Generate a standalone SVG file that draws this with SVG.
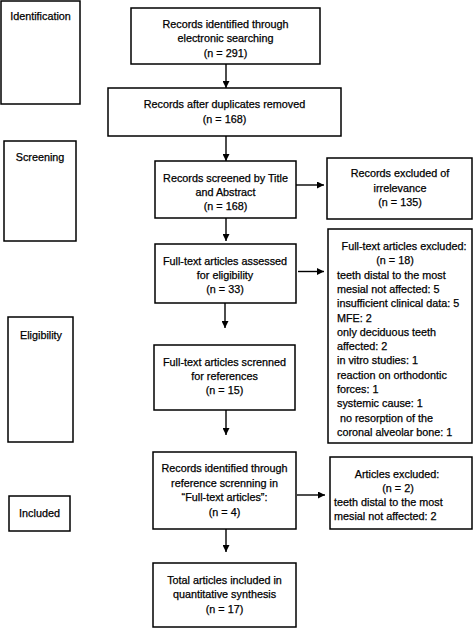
<svg xmlns="http://www.w3.org/2000/svg" width="473" height="629" viewBox="0 0 473 629">
<defs>
<marker id="ah" viewBox="0 0 10 10" refX="10" refY="5" markerWidth="7" markerHeight="7" markerUnits="userSpaceOnUse" orient="auto">
<path d="M0,0 L10,5 L0,10 z" fill="#000"/>
</marker>
</defs>
<style>
rect{fill:#fff;stroke:#000;stroke-width:1.5}
text{font-family:"Liberation Sans",Arial,sans-serif;font-size:10.8px;fill:#000;stroke:#000;stroke-width:0.25}
.c{text-anchor:middle}
.conn line{stroke:#000;stroke-width:1.4;marker-end:url(#ah)}
</style>
<rect x="0" y="0" width="473" height="629" style="fill:#fff;stroke:none"/>

<g id="stage-identification">
<rect x="1" y="1" width="79" height="103"/>
<text class="c" x="40.5" y="20">Identification</text>
</g>
<g id="stage-screening">
<rect x="4" y="141" width="72" height="100"/>
<text class="c" x="40" y="161">Screening</text>
</g>
<g id="stage-eligibility">
<rect x="8" y="317" width="65" height="125"/>
<text class="c" x="41" y="339">Eligibility</text>
</g>
<g id="stage-included">
<rect x="9" y="496" width="61" height="35"/>
<text class="c" x="39.5" y="517">Included</text>
</g>

<g id="n-identified">
<rect x="131" y="8" width="189" height="56"/>
<text class="c" x="225.5" y="28">Records identified through</text>
<text class="c" x="225.5" y="42">electronic searching</text>
<text class="c" x="225.5" y="57">(n = 291)</text>
</g>
<g id="n-duplicates">
<rect x="108" y="88" width="233" height="48"/>
<text class="c" x="224.5" y="108">Records after duplicates removed</text>
<text class="c" x="224.5" y="123">(n = 168)</text>
</g>
<g id="n-screened">
<rect x="155" y="161" width="141" height="57"/>
<text class="c" x="225.5" y="182">Records screened by Title</text>
<text class="c" x="225.5" y="196">and Abstract</text>
<text class="c" x="225.5" y="210">(n = 168)</text>
</g>
<g id="n-excluded-irrelevance">
<rect x="327" y="158" width="145" height="61"/>
<text class="c" x="400" y="177">Records excluded of</text>
<text class="c" x="400" y="192">irrelevance</text>
<text class="c" x="400" y="206">(n = 135)</text>
</g>
<g id="n-fulltext-assessed">
<rect x="155" y="244" width="141" height="59"/>
<text class="c" x="225" y="265">Full-text articles assessed</text>
<text class="c" x="225" y="279">for eligibility</text>
<text class="c" x="225" y="293">(n = 33)</text>
</g>
<g id="n-fulltext-excluded">
<rect x="328" y="229" width="144" height="214"/>
<text class="c" x="404" y="250">Full-text articles excluded:</text>
<text class="c" x="395" y="264.3">(n = 18)</text>
<text x="337" y="278.6">teeth distal to the most</text>
<text x="337" y="292.9">mesial not affected: 5</text>
<text x="337" y="307.2">insufficient clinical data: 5</text>
<text x="337" y="321.5">MFE: 2</text>
<text x="337" y="335.8">only deciduous teeth</text>
<text x="337" y="350.1">affected: 2</text>
<text x="337" y="364.4">in vitro studies: 1</text>
<text x="337" y="378.7">reaction on orthodontic</text>
<text x="337" y="393">forces: 1</text>
<text x="337" y="407.3">systemic cause: 1</text>
<text x="340" y="421.6">no resorption of the</text>
<text x="337" y="435.9">coronal alveolar bone: 1</text>
</g>
<g id="n-fulltext-screened">
<rect x="154" y="345" width="141" height="65"/>
<text class="c" x="224.5" y="366">Full-text articles screnned</text>
<text class="c" x="224.5" y="380">for references</text>
<text class="c" x="224.5" y="394">(n = 15)</text>
</g>
<g id="n-reference-screening">
<rect x="153" y="452" width="143" height="77"/>
<text class="c" x="224.5" y="472">Records identified through</text>
<text class="c" x="224.5" y="487">reference screnning in</text>
<text class="c" x="224.5" y="501">“Full-text articles”:</text>
<text class="c" x="224.5" y="516">(n = 4)</text>
</g>
<g id="n-articles-excluded">
<rect x="330" y="457" width="142" height="72"/>
<text class="c" x="397" y="478">Articles excluded:</text>
<text class="c" x="398" y="492">(n = 2)</text>
<text x="334" y="506">teeth distal to the most</text>
<text x="334" y="520">mesial not affected: 2</text>
</g>
<g id="n-total-included">
<rect x="153" y="563" width="143" height="64"/>
<text class="c" x="224.5" y="584">Total articles included in</text>
<text class="c" x="224.5" y="598">quantitative synthesis</text>
<text class="c" x="224.5" y="613">(n = 17)</text>
</g>

<g id="connectors" class="conn">
<line x1="226" y1="64" x2="226" y2="88"/>
<line x1="226" y1="136" x2="226" y2="161"/>
<line x1="226" y1="218" x2="226" y2="241"/>
<line x1="225" y1="303" x2="225" y2="328"/>
<line x1="226" y1="410" x2="226" y2="435"/>
<line x1="226" y1="529" x2="226" y2="552"/>
<line x1="296" y1="185" x2="324" y2="185"/>
<line x1="298" y1="271.5" x2="324" y2="271.5"/>
<line x1="297" y1="495" x2="325" y2="495"/>
</g>
</svg>
